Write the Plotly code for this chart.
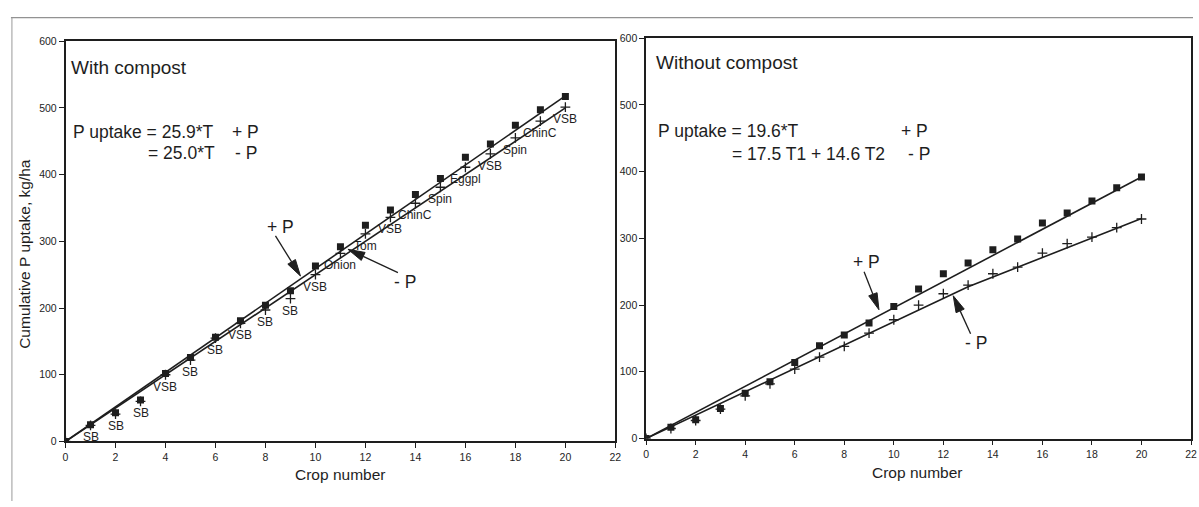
import plotly.graph_objects as go

# ---- data -------------------------------------------------------------
crop = [0, 1, 2, 3, 4, 5, 6, 7, 8, 9, 10, 11, 12, 13, 14, 15, 16, 17, 18, 19, 20]

# With compost: cumulative P uptake (kg/ha)
with_plus_p = [0, 25, 43, 62, 102, 126, 156, 181, 204, 226, 263, 292, 324, 347,
               370, 394, 426, 446, 474, 497, 517]
with_minus_p = [0, 24, 41, 60, 100, 122, 155, 177, 197, 214, 250, 282, 311, 336,
                357, 381, 411, 431, 455, 480, 501]

# Without compost: cumulative P uptake (kg/ha)
without_plus_p = [0, 17, 28, 45, 68, 85, 114, 139, 155, 173, 198, 224, 247, 263,
                  283, 299, 323, 338, 356, 376, 392]
without_minus_p = [0, 15, 27, 44, 64, 82, 104, 122, 138, 158, 178, 200, 217, 230,
                   247, 257, 278, 292, 302, 316, 329]

# crop grown at each step (crop 1..20)
crop_names = ["SB", "SB", "SB", "VSB", "SB", "SB", "VSB", "SB", "SB", "VSB",
              "Onion", "Tom", "VSB", "ChinC", "Spin", "Eggpl", "VSB", "Spin",
              "ChinC", "VSB"]

# regression slopes (kg/ha per crop)
slope_with_plus = 25.9
slope_with_minus = 25.0
slope_without_plus = 19.6
slope_without_minus_t1 = 17.5
slope_without_minus_t2 = 14.6
break_crop = 13

x_ticks = [0, 2, 4, 6, 8, 10, 12, 14, 16, 18, 20, 22]
y_ticks = [0, 100, 200, 300, 400, 500, 600]

# ---- layout geometry --------------------------------------------------
W, H = 1199, 507
INK = "#1e1e1e"
FONT = "Liberation Sans, Arial, sans-serif"

# plot boxes in pixels: (left, right, top, bottom)
BOX = {
    "x": (63, 617, 36, 446),
    "x2": (648, 1197, 33, 443),
}
XR = (0, 22)
YR = (0, 600)


def dom(box):
    l, r, t, b = box
    return [l / W, r / W], [1 - b / H, 1 - t / H]


def to_px(ax, x, y):
    l, r, t, b = BOX[ax]
    return (l + (x - XR[0]) / (XR[1] - XR[0]) * (r - l),
            b - (y - YR[0]) / (YR[1] - YR[0]) * (b - t))


def to_data(ax, px, py):
    l, r, t, b = BOX[ax]
    return (XR[0] + (px - l) / (r - l) * (XR[1] - XR[0]),
            YR[0] + (b - py) / (b - t) * (YR[1] - YR[0]))


fig = go.Figure()

square = dict(symbol="square", size=7, color=INK, line=dict(width=0))
cross = dict(symbol="cross-thin-open", size=7, color=INK, line=dict(width=1.3, color=INK))
line_style = dict(color=INK, width=1.6)

# ---- With compost -----------------------------------------------------
x_end = crop[-1]
fig.add_trace(go.Scatter(x=[0, x_end], y=[0, slope_with_plus * x_end], mode="lines",
                         line=line_style, xaxis="x", yaxis="y"))
fig.add_trace(go.Scatter(x=[0, x_end], y=[0, slope_with_minus * x_end], mode="lines",
                         line=line_style, xaxis="x", yaxis="y"))
fig.add_trace(go.Scatter(x=crop, y=with_plus_p, mode="markers", marker=square,
                         xaxis="x", yaxis="y"))
fig.add_trace(go.Scatter(x=crop, y=with_minus_p, mode="markers", marker=cross,
                         xaxis="x", yaxis="y"))

# ---- Without compost --------------------------------------------------
fig.add_trace(go.Scatter(x=[0, x_end], y=[0, slope_without_plus * x_end], mode="lines",
                         line=line_style, xaxis="x2", yaxis="y2"))
y_break = slope_without_minus_t1 * break_crop
fig.add_trace(go.Scatter(
    x=[0, break_crop, x_end],
    y=[0, y_break, y_break + slope_without_minus_t2 * (x_end - break_crop)],
    mode="lines", line=line_style, xaxis="x2", yaxis="y2"))
fig.add_trace(go.Scatter(x=crop, y=without_plus_p, mode="markers", marker=square,
                         xaxis="x2", yaxis="y2"))
fig.add_trace(go.Scatter(x=crop, y=without_minus_p, mode="markers", marker=cross,
                         xaxis="x2", yaxis="y2"))

annotations = []
shapes = []

# crop names under the -P points
for c, v, name in zip(crop[1:], with_minus_p[1:], crop_names):
    annotations.append(dict(x=c, y=v, xref="x", yref="y", text=name, showarrow=False,
                            xanchor="center", yanchor="middle", yshift=-12,
                            font=dict(size=12, color=INK, family=FONT)))


def paper_text(px, py, text, size, anchor="left"):
    annotations.append(dict(x=px / W, y=1 - py / H, xref="paper", yref="paper",
                            text=text, showarrow=False, xanchor=anchor,
                            yanchor="middle", font=dict(size=size, color=INK, family=FONT)))


paper_text(67, 63, "With compost", 19)
paper_text(69, 129, "P uptake = 25.9*T", 17.5)
paper_text(229, 129, "+ P", 17.5)
paper_text(144, 151, "= 25.0*T", 17.5)
paper_text(232, 151, "- P", 17.5)

paper_text(656, 58, "Without compost", 19)
paper_text(658, 128, "P uptake = 19.6*T", 17.5)
paper_text(903, 128, "+ P", 17.5)
paper_text(732, 152, "= 17.5 T1 + 14.6 T2", 17.5)
paper_text(910, 152, "- P", 17.5)

# axis titles
annotations.append(dict(x=22 / W, y=1 - 254 / H, xref="paper", yref="paper",
                        text="Cumulative P uptake, kg/ha", showarrow=False, textangle=-90,
                        xanchor="center", yanchor="middle",
                        font=dict(size=15.5, color=INK, family=FONT)))
paper_text(340, 480, "Crop number", 15.5, anchor="center")
paper_text(921, 478, "Crop number", 15.5, anchor="center")


def arrow(ax, tail, tip, label, label_pos):
    """Pointer arrow with a slender filled head, drawn in data space."""
    ya = "y" if ax == "x" else "y2"
    tx, ty = to_px(ax, *tail)
    hx, hy = to_px(ax, *tip)
    dx, dy = hx - tx, hy - ty
    n = (dx * dx + dy * dy) ** 0.5
    ux, uy = dx / n, dy / n
    L, w = 17, 4.5
    bx, by = hx - ux * L, hy - uy * L
    p1 = to_data(ax, bx - uy * w, by + ux * w)
    p2 = to_data(ax, bx + uy * w, by - ux * w)
    base = to_data(ax, bx, by)
    shapes.append(dict(type="line", xref=ax, yref=ya, x0=tail[0], y0=tail[1],
                       x1=base[0], y1=base[1], line=dict(color=INK, width=1.3)))
    shapes.append(dict(type="path", xref=ax, yref=ya,
                       path=f"M{tip[0]},{tip[1]} L{p1[0]},{p1[1]} L{p2[0]},{p2[1]} Z",
                       fillcolor=INK, line=dict(color=INK, width=1)))
    annotations.append(dict(x=label_pos[0], y=label_pos[1], xref=ax, yref=ya, text=label,
                            showarrow=False, xanchor="center", yanchor="middle",
                            font=dict(size=17.5, color=INK, family=FONT)))


arrow("x", (8.4, 308), (9.4, 248), "+ P", (8.6, 322))
arrow("x", (13.3, 253), (11.3, 288), "- P", (13.6, 239))
arrow("x2", (8.8, 250), (9.4, 193), "+ P", (8.9, 265))
arrow("x2", (13.1, 157), (12.4, 214), "- P", (13.3, 143))

# outer frame
shapes.append(dict(type="line", xref="paper", yref="paper", x0=8 / W, x1=1,
                   y0=1 - 12 / H, y1=1 - 12 / H, line=dict(color="#777", width=1)))
shapes.append(dict(type="line", xref="paper", yref="paper", x0=9 / W, x1=9 / W,
                   y0=0, y1=1 - 12 / H, line=dict(color="#999", width=1)))

axis_common = dict(showgrid=False, zeroline=False, showline=True, linecolor=INK,
                   linewidth=1.5, mirror=True, ticks="outside", ticklen=5, tickwidth=1,
                   tickcolor=INK, tickfont=dict(size=10.5, color=INK, family=FONT))

xd1, yd1 = dom(BOX["x"])
xd2, yd2 = dom(BOX["x2"])

fig.update_layout(
    width=W, height=H, margin=dict(l=0, r=0, t=0, b=0),
    paper_bgcolor="white", plot_bgcolor="white", showlegend=False,
    font=dict(family=FONT, color=INK),
    xaxis=dict(domain=xd1, range=list(XR), tickvals=x_ticks, anchor="y", **axis_common),
    yaxis=dict(domain=yd1, range=list(YR), tickvals=y_ticks, anchor="x", **axis_common),
    xaxis2=dict(domain=xd2, range=list(XR), tickvals=x_ticks, anchor="y2", **axis_common),
    yaxis2=dict(domain=yd2, range=list(YR), tickvals=y_ticks, anchor="x2", **axis_common),
    annotations=annotations, shapes=shapes,
)

fig.write_html("out.html")
